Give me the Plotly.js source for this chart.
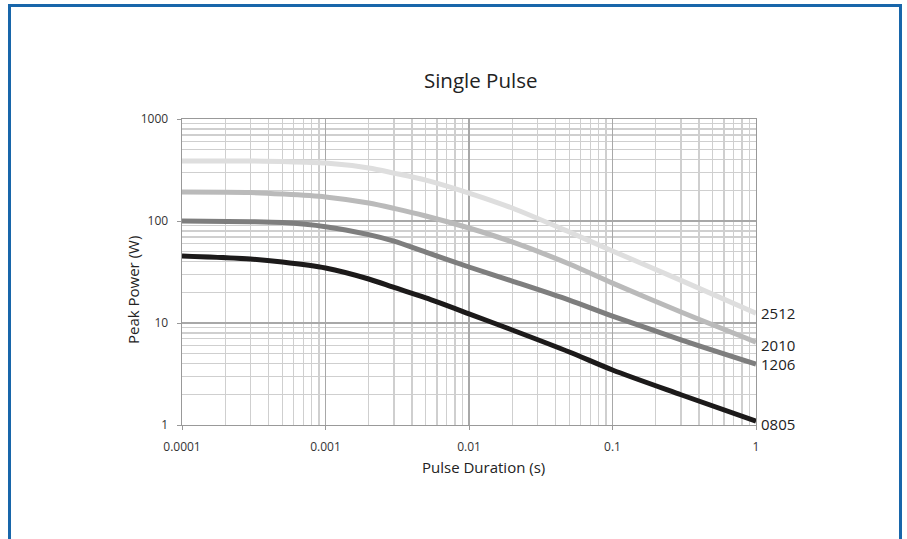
<!DOCTYPE html>
<html>
<head>
<meta charset="utf-8">
<script src="https://cdn.plot.ly/plotly-3.0.1.min.js"></script>
<style>
  html, body { margin: 0; padding: 0; background: #ffffff; overflow: hidden; }
  #frame { position: absolute; left: 8px; top: 4px; width: 894px; height: 600px;
           border: 3px solid #1866aa; border-bottom: none; box-sizing: border-box; }
  #chart { position: absolute; left: 0; top: 0; width: 907px; height: 539px; }
</style>
</head>
<body>
<div id="frame"></div>
<div id="chart"></div>
<script>
// Pulse duration (s)
const duration = [0.0001, 0.0003, 0.0005, 0.001, 0.002, 0.003, 0.005, 0.01, 0.02, 0.05, 0.1, 0.3, 1];
// Peak power (W) per package size
const p2512 = [387, 387, 383, 370, 331, 295, 252, 188, 134, 78, 50.8, 26.2, 12.5];
const p2010 = [192, 190, 184, 172, 150, 133, 112, 85.4, 62.3, 37.9, 24.6, 12.8, 6.5];
const p1206 = [100, 98.5, 96.5, 88, 73.5, 63.5, 49.5, 35.4, 25.8, 16.8, 11.7, 6.85, 3.96];
const p0805 = [45.4, 42.4, 39.6, 34.6, 27.0, 22.3, 17.6, 12.3, 8.54, 5.2, 3.46, 1.98, 1.09];
const seriesNames = ["2512", "2010", "1206", "0805"];
const seriesColors = ["#dedede", "#bababa", "#7e7e7e", "#1c1a1a"];
const xTickVals = [0.0001, 0.001, 0.01, 0.1, 1];
const xTickText = ["0.0001", "0.001", "0.01", "0.1", "1"];
const yTickVals = [1, 10, 100, 1000];
const yTickText = ["1", "10", "100", "1000"];
const chartTitle = "Single Pulse";
const xTitle = "Pulse Duration (s)";
const yTitle = "Peak Power (W)";

const allSeries = [p2512, p2010, p1206, p0805];

// minor grid positions 2..9 within each decade
function minorVals(lo, hi) {
  const v = [];
  for (let d = lo; d < hi; d++) {
    for (let k = 2; k <= 9; k++) v.push(k * Math.pow(10, d));
  }
  return v;
}

const traces = allSeries.map((ys, i) => ({
  type: 'scatter', mode: 'lines', name: seriesNames[i],
  x: duration, y: ys,
  line: { color: seriesColors[i], width: 5, shape: 'spline', smoothing: 0.8 },
  hoverinfo: 'x+y+name'
}));

const FONT = 'Open Sans, sans-serif';
const labelShift = [0, -3, 0, -3];
const annotations = allSeries.map((ys, i) => ({
  x: Math.log10(duration[duration.length - 1]),
  y: Math.log10(ys[ys.length - 1]),
  xref: 'x', yref: 'y', text: seriesNames[i], showarrow: false,
  xanchor: 'left', yanchor: 'middle', xshift: 3, yshift: labelShift[i],
  font: { family: FONT, size: 15, color: '#222222' }
}));
annotations.push({
  text: xTitle, xref: 'paper', yref: 'paper', x: 0.526, y: -0.137,
  xanchor: 'center', yanchor: 'middle', showarrow: false,
  font: { family: FONT, size: 15, color: '#222222' }
});
annotations.push({
  text: yTitle, xref: 'paper', yref: 'paper', x: -0.0854, y: 0.441, textangle: -90,
  xanchor: 'center', yanchor: 'middle', showarrow: false,
  font: { family: FONT, size: 15, color: '#222222' }
});

const gridMajor = '#a8a8a8';
const gridMinor = '#cfcfcf';

const layout = {
  width: 907, height: 539,
  margin: { l: 182, r: 151, t: 119, b: 114 },
  paper_bgcolor: 'rgba(0,0,0,0)', plot_bgcolor: '#ffffff',
  showlegend: false,
  title: {
    text: chartTitle, xref: 'container', x: 0.53, xanchor: 'center',
    yref: 'container', y: 1 - 81 / 539, yanchor: 'middle',
    font: { family: FONT, size: 20.5, color: '#222222' }
  },
  xaxis: {
    type: 'log', range: [-4, 0],
    tickmode: 'array', tickvals: xTickVals, ticktext: xTickText,
    ticks: 'outside', ticklen: 4, tickcolor: '#999999', tickwidth: 1,
    ticklabelstandoff: 6,
    tickfont: { family: FONT, size: 12, color: '#333333' },
    showgrid: true, gridcolor: gridMajor, gridwidth: 1.4,
    minor: { tickmode: 'array', tickvals: minorVals(-4, 0), showgrid: true,
             gridcolor: gridMinor, gridwidth: 1.4, ticks: '' },
    showline: true, linecolor: '#999999', linewidth: 1.4, mirror: true,
    zeroline: false
  },
  yaxis: {
    type: 'log', range: [0, 3],
    tickmode: 'array', tickvals: yTickVals, ticktext: yTickText,
    ticks: 'outside', ticklen: 4, tickcolor: '#999999', tickwidth: 1,
    ticklabelstandoff: 6,
    tickfont: { family: FONT, size: 12, color: '#333333' },
    showgrid: true, gridcolor: gridMajor, gridwidth: 1.4,
    minor: { tickmode: 'array', tickvals: minorVals(0, 3), showgrid: true,
             gridcolor: gridMinor, gridwidth: 1.4, ticks: '' },
    showline: true, linecolor: '#999999', linewidth: 1.4, mirror: true,
    zeroline: false
  },
  annotations: annotations
};

Plotly.newPlot('chart', traces, layout, { displayModeBar: false, staticPlot: true });
</script>
</body>
</html>
